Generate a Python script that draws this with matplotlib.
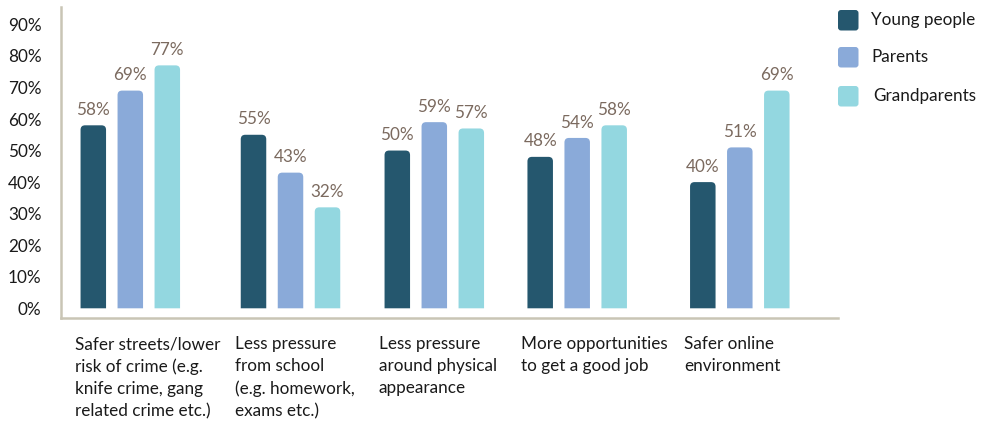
import matplotlib
matplotlib.use("Agg")
import matplotlib.pyplot as plt
from matplotlib.patches import FancyBboxPatch, PathPatch
from matplotlib.path import Path
from matplotlib.transforms import blended_transform_factory

# data
categories = [
    "Safer streets/lower\nrisk of crime (e.g.\nknife crime, gang\nrelated crime etc.)",
    "Less pressure\nfrom school\n(e.g. homework,\nexams etc.)",
    "Less pressure\naround physical\nappearance",
    "More opportunities\nto get a good job",
    "Safer online\nenvironment",
]
series_names = ["Young people", "Parents", "Grandparents"]
young_people = [58, 55, 50, 48, 40]
parents = [69, 43, 59, 54, 51]
grandparents = [77, 32, 57, 58, 69]
yticks = [0, 10, 20, 30, 40, 50, 60, 70, 80, 90]

# layout (pixel-like x units)
group_x = [130.3, 290.5, 434.3, 577.2, 739.8]
pitch = 37.0
bar_w = 25.5
colors = ["#25576e", "#8aaad9", "#93d7e0"]
label_col = "#7b6a5f"
axis_col = "#c9c5b5"
font = "Lato"
fs = 12.3

plt.rcParams['font.family'] = [font, 'DejaVu Sans']

W, H = 986, 422
fig = plt.figure(figsize=(W / 100, H / 100), dpi=100)
ax_top, ax_bot, ax_l, ax_r = 7, 318.3, 61, 838
ax = fig.add_axes([ax_l / W, (H - ax_bot) / H, (ax_r - ax_l) / W, (ax_bot - ax_top) / H])

px_per_unit = 3.155
zero_px = 308.3
ax.set_xlim(ax_l, ax_r)
ax.set_ylim(-(ax_bot - zero_px) / px_per_unit, (zero_px - ax_top) / px_per_unit)


def top_rounded(b, r=4.5):
    # rectangle of the bar with rounded top corners
    x0, y0 = b.get_x(), b.get_y()
    x1, y1 = x0 + b.get_width(), y0 + b.get_height()
    ry = r / px_per_unit
    verts = [(x0, y0), (x0, y1 - ry), (x0, y1), (x0 + r, y1),
             (x1 - r, y1), (x1, y1), (x1, y1 - ry), (x1, y0), (x0, y0)]
    codes = [Path.MOVETO, Path.LINETO, Path.CURVE3, Path.CURVE3,
             Path.LINETO, Path.CURVE3, Path.CURVE3, Path.LINETO, Path.CLOSEPOLY]
    return Path(verts, codes)


for k, vals in enumerate([young_people, parents, grandparents]):
    xs = [g + (k - 1) * pitch for g in group_x]
    bars = ax.bar(xs, vals, width=bar_w, color=colors[k], linewidth=0)
    for b, v in zip(bars, vals):
        ax.add_patch(PathPatch(top_rounded(b), facecolor=colors[k], linewidth=0))
        b.set_visible(False)
        ax.annotate("%d%%" % v, (b.get_x() + b.get_width() / 2, v),
                    xytext=(0, 7.5), textcoords="offset points",
                    ha="center", va="baseline", fontsize=fs, color=label_col)

# axes styling
for s in ["top", "right"]:
    ax.spines[s].set_visible(False)
for s in ["left", "bottom"]:
    ax.spines[s].set_color(axis_col)
    ax.spines[s].set_linewidth(1.8)
ax.set_xticks([])
ax.set_yticks(yticks)
ax.set_yticklabels(["%d%%" % t for t in yticks], fontsize=fs, color="#1a1a1a")
ax.tick_params(axis="y", length=0, pad=14)

# category labels under the axis
trans = blended_transform_factory(ax.transData, fig.transFigure)
for g, c in zip(group_x, categories):
    ax.text(g - pitch - bar_w / 2 - 6, (H - 336) / H, c, transform=trans,
            ha="left", va="top", fontsize=fs, color="#1a1a1a", linespacing=1.48)

# legend
leg_y = [10, 47, 86]
leg_text_x = [871, 871, 873]
for k, name in enumerate(series_names):
    sq = FancyBboxPatch((8.38, (H - leg_y[k] - 20.5) / 100), 0.205, 0.205,
                        boxstyle="round,pad=0,rounding_size=0.03",
                        transform=fig.dpi_scale_trans, facecolor=colors[k],
                        linewidth=0)
    fig.patches.append(sq)
    fig.text(leg_text_x[k] / W, (H - leg_y[k] - 10) / H, name, ha="left",
             va="center", fontsize=fs, color="#1a1a1a")

fig.savefig("out.png", dpi=100)
